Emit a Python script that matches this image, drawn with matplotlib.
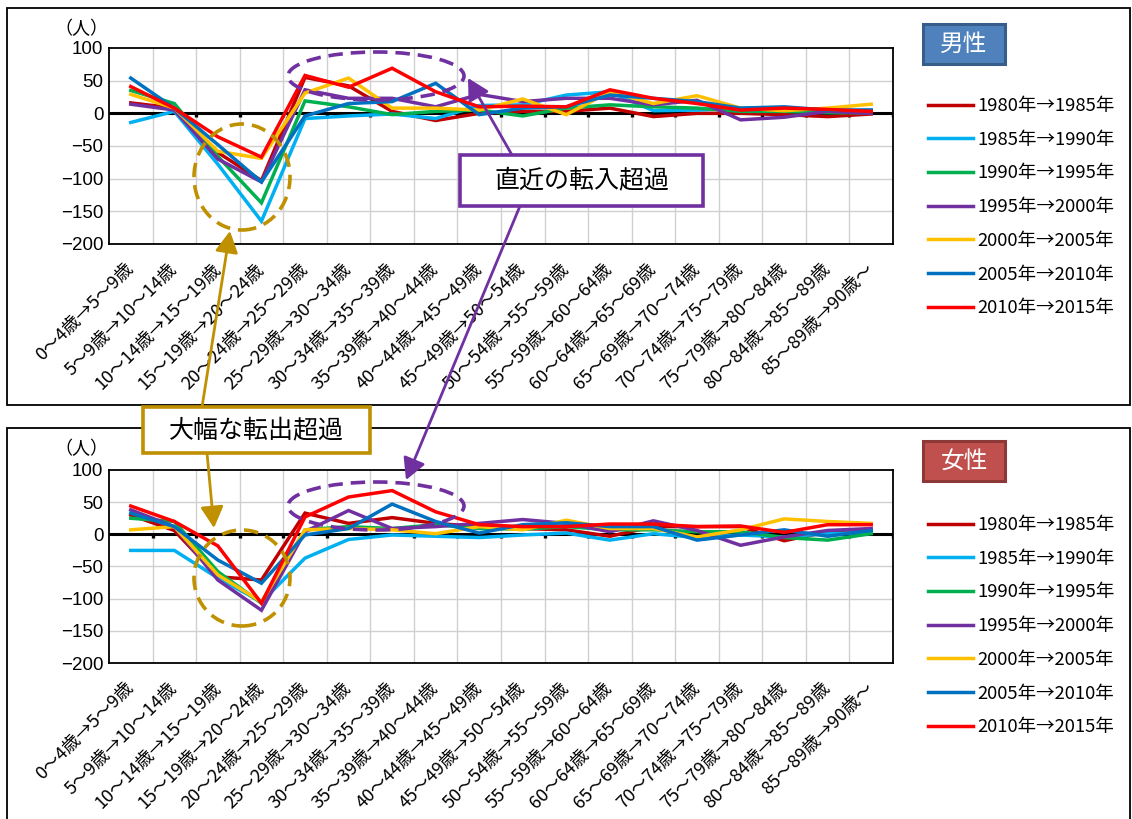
import matplotlib
matplotlib.use("Agg")
import matplotlib.pyplot as plt
from matplotlib.patches import Ellipse, Rectangle, FancyArrowPatch
import numpy as np

plt.rcParams['font.family'] = ['Noto Sans CJK JP', 'DejaVu Sans']

W, H = 1132, 819

categories = ["0～4歳→5～9歳", "5～9歳→10～14歳", "10～14歳→15～19歳",
              "15～19歳→20～24歳", "20～24歳→25～29歳", "25～29歳→30～34歳",
              "30～34歳→35～39歳", "35～39歳→40～44歳", "40～44歳→45～49歳",
              "45～49歳→50～54歳", "50～54歳→55～59歳", "55～59歳→60～64歳",
              "60～64歳→65～69歳", "65～69歳→70～74歳", "70～74歳→75～79歳",
              "75～79歳→80～84歳", "80～84歳→85～89歳", "85～89歳→90歳～"]

periods = ["1980年→1985年", "1985年→1990年", "1990年→1995年", "1995年→2000年",
           "2000年→2005年", "2005年→2010年", "2010年→2015年"]
colors = ["#C00000", "#00B0F0", "#00B050", "#7030A0", "#FFC000", "#0070C0", "#FF0000"]

# 男性: net migration by cohort transition
male_1980 = [16, 8, -60, -103, 55, 42, 3, -11, 0, 3, 3, 8, -5, 0, 0, -2, -5, -1]
male_1985 = [-14, 3, -78, -165, -8, -4, -1, -8, 12, 13, 28, 33, 4, 5, 8, 8, 4, 5]
male_1990 = [35, 15, -66, -137, 19, 10, -2, 3, 5, -4, 8, 13, 10, 8, 3, 3, 1, 1]
male_1995 = [14, 5, -70, -105, 36, 23, 23, 10, 29, 18, 23, 23, 13, 20, -10, -6, 3, 0]
male_2000 = [29, 8, -58, -69, 31, 54, 8, 8, 5, 22, -2, 33, 15, 27, 8, 4, 8, 14]
male_2005 = [54, 8, -48, -105, -4, 15, 18, 46, -2, 8, 10, 28, 23, 18, 8, 10, 5, 5]
male_2010 = [41, 8, -36, -67, 58, 40, 69, 33, 10, 11, 10, 36, 23, 15, 5, 8, 6, 3]

# 女性
female_1980 = [30, 6, -66, -71, 33, 17, 26, 17, 12, 9, 7, -3, 12, 12, 12, -10, 4, 4]
female_1985 = [-25, -25, -68, -105, -37, -8, -1, -3, -5, -1, 2, -9, 1, -5, -1, -4, 1, 3]
female_1990 = [25, 20, -58, -107, 7, 12, 9, 15, 9, 8, 12, 7, 7, 4, 4, -5, -9, 1]
female_1995 = [38, 12, -71, -118, 4, 37, 9, 12, 17, 23, 17, 4, 21, 6, -17, -4, 6, 9]
female_2000 = [7, 12, -63, -105, 7, 9, 7, 1, 12, 7, 22, 9, 9, -4, 7, 24, 20, 17]
female_2005 = [33, 12, -40, -76, -1, 9, 47, 20, 2, 15, 18, 12, 12, -9, -1, 7, -3, 6]
female_2010 = [44, 20, -18, -107, 27, 58, 68, 35, 15, 12, 12, 16, 16, 12, 13, 3, 15, 15]

male = [male_1980, male_1985, male_1990, male_1995, male_2000, male_2005, male_2010]
female = [female_1980, female_1985, female_1990, female_1995, female_2000, female_2005, female_2010]

fig = plt.figure(figsize=(W / 100, H / 100), dpi=100)


def fx(x):
    return x / W


def fy(y):
    return 1 - y / H


def panel(top_px, bottom_px, series, title, title_y, title_fc, title_ec, legend_y, unit_y):
    ax = fig.add_axes([fx(109), fy(bottom_px), fx(893) - fx(109), fy(top_px) - fy(bottom_px)])
    n = len(categories)
    x = np.arange(n)
    ax.set_xlim(-0.5, n - 0.5)
    ax.set_ylim(-200, 100)
    ax.set_yticks([100, 50, 0, -50, -100, -150, -200])
    ax.set_yticklabels(["100", "50", "0", "−50", "−100", "−150", "−200"],
                       fontsize=13.5, family=['Liberation Sans', 'DejaVu Sans'])
    ax.tick_params(axis='y', length=0, pad=4)
    for b in np.arange(0.5, n - 0.5, 1.0):
        ax.axvline(b, color="#D0D0D0", lw=1, zorder=0)
    for yv in [50, -50, -100, -150]:
        ax.axhline(yv, color="#D0D0D0", lw=1, zorder=0)
    ax.axhline(0, color="black", lw=2.2, zorder=1)
    ax.vlines(np.arange(0.5, n, 1.0), -5, 0, color="black", lw=2.4, zorder=1)
    ax.set_xticks(x)
    ax.set_xticklabels(categories, rotation=45, ha='right', va='center',
                       rotation_mode='anchor', fontsize=13)
    ax.tick_params(axis='x', length=0, pad=16)
    for s in ax.spines.values():
        s.set_linewidth(1.3)
        s.set_color("black")
    handles = []
    for vals, c, lab in zip(series, colors, periods):
        h, = ax.plot(x, vals, color=c, lw=2.5, label=lab, zorder=3, solid_joinstyle='miter')
        handles.append(h)
    fig.legend(handles=handles, loc='upper left',
               bbox_to_anchor=(fx(928), fy(legend_y)), frameon=False,
               fontsize=13.3, labelspacing=0.85, handlelength=2.45,
               handletextpad=0.22, borderpad=0, borderaxespad=0)
    fig.text(fx(81), fy(unit_y), "（人）", fontsize=13, ha='center', va='center')
    # gender label box
    fig.patches.append(Rectangle((fx(923), fy(title_y + 20)), fx(82), fy(0) - fy(40),
                                 transform=fig.transFigure, facecolor=title_fc,
                                 edgecolor=title_ec, lw=2.2))
    fig.text(fx(964), fy(title_y), title, color="white", fontsize=17,
             ha='center', va='center')
    return ax


# panel frames
fig.patches.append(Rectangle((fx(7), fy(405)), fx(1130) - fx(7), fy(8) - fy(405),
                             transform=fig.transFigure, fill=False, edgecolor="black", lw=1.3))
fig.patches.append(Rectangle((fx(7), fy(830)), fx(1130) - fx(7), fy(428) - fy(830),
                             transform=fig.transFigure, fill=False, edgecolor="black", lw=1.3))

panel(48, 244, male, "男性", 44, "#4F81BD", "#385D8A", 97, 29)
panel(470, 663, female, "女性", 461, "#C0504D", "#8C3836", 516, 449)

gold = "#BF9000"
purple = "#7030A0"


def ellipse(cx, cy, rx, ry, color):
    fig.patches.append(Ellipse((fx(cx), fy(cy)), 2 * rx / W, 2 * ry / H,
                               transform=fig.transFigure, fill=False, edgecolor=color,
                               lw=2.6, linestyle=(0, (4, 2.2)), zorder=10))


ellipse(242, 177, 48, 53, gold)
ellipse(242, 578, 48, 48, gold)
ellipse(376, 76, 88, 24, purple)
ellipse(376, 506, 88, 24, purple)


def arrow(x0, y0, x1, y1, color):
    fig.patches.append(FancyArrowPatch((fx(x0), fy(y0)), (fx(x1), fy(y1)),
                                       transform=fig.transFigure, color=color,
                                       arrowstyle='-|>,head_length=13,head_width=7',
                                       mutation_scale=1, lw=2, zorder=11,
                                       shrinkA=0, shrinkB=0))


arrow(202, 407, 230, 231, gold)
arrow(207, 453, 214, 528, gold)
arrow(512, 155, 468, 78, purple)
arrow(520, 206, 406, 480, purple)


def callout(x0, y0, x1, y1, text, color):
    fig.patches.append(Rectangle((fx(x0), fy(y1)), fx(x1) - fx(x0), fy(y0) - fy(y1),
                                 transform=fig.transFigure, facecolor="white",
                                 edgecolor=color, lw=2.6, zorder=12))
    fig.text(fx((x0 + x1) / 2), fy((y0 + y1) / 2), text, fontsize=18,
             ha='center', va='center', zorder=13)


callout(143, 407, 370, 453, "大幅な転出超過", gold)
callout(460, 155, 703, 206, "直近の転入超過", purple)

fig.savefig("out.png", dpi=100)
